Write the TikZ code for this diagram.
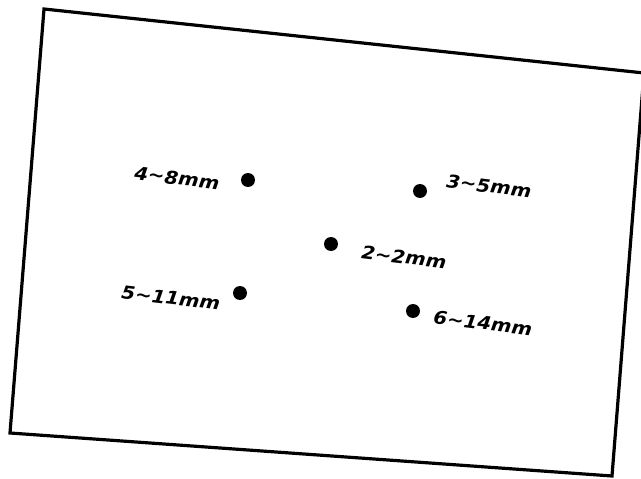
\documentclass[tikz,border=0pt]{standalone}
\usepackage{fontspec}
\usepackage{tikz}
\usetikzlibrary{positioning}
\newfontfamily\lblfont{DejaVu Sans}
\tikzset{
  frame/.style={line width=3.2pt, line join=miter},
  dot/.style={circle, fill=black, inner sep=0pt, minimum size=14pt},
  lbl/.style={font=\lblfont\bfseries\itshape\fontsize{18}{19}\selectfont,
    rotate=-7, xscale=1.1, inner sep=0pt}
}
\begin{document}
\begin{tikzpicture}[x=1pt, y=-1pt]
  \useasboundingbox (0,0) rectangle (641,479);
  % tilted sheet
  \coordinate (tl) at (44,9);
  \coordinate (tr) at (644,73);
  \coordinate (br) at (612,476);
  \coordinate (bl) at (10,433);
  \draw[frame] (tl) -- (tr) -- (br) -- (bl) -- cycle;

  % points
  \node[dot] (d48) at (248,180) {};
  \node[dot] (d35) at (420,191) {};
  \node[dot] (d22) at (331,244) {};
  \node[dot] (d511) at (240,293) {};
  \node[dot] (d614) at (413,311) {};

  % sizes
  \node[lbl] (l48) at (177,178) {4∼8mm};
  \node[lbl] (l35) at (489,186) {3∼5mm};
  \node[lbl] (l22) at (404,257) {2∼2mm};
  \node[lbl] (l511) at (171,298) {5∼11mm};
  \node[lbl] (l614) at (483,323) {6∼14mm};
\end{tikzpicture}
\end{document}
